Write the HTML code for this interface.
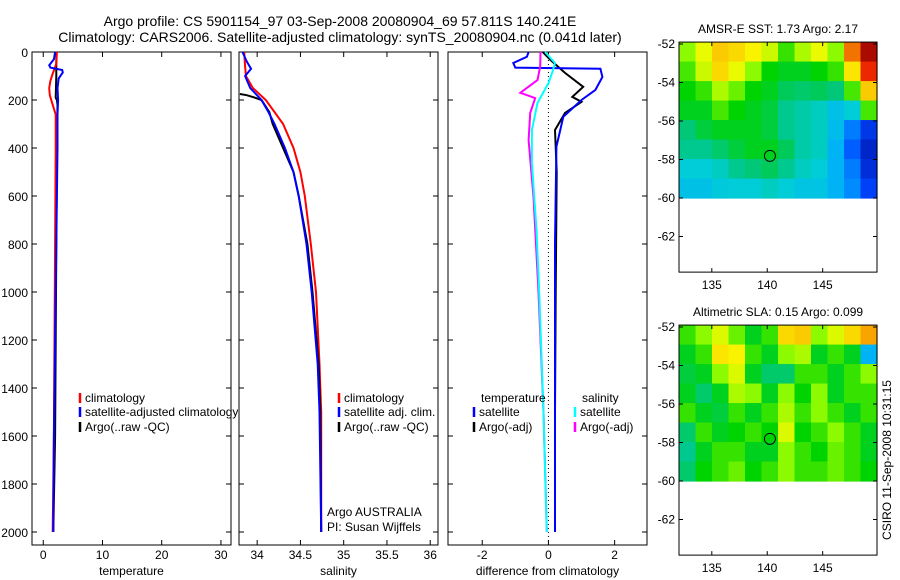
<!DOCTYPE html>
<html><head><meta charset="utf-8"><style>
body{margin:0;background:#fff}
svg{display:block;font-family:"Liberation Sans",sans-serif;font-size:12px}
</style></head><body>
<svg id="c" width="900" height="580" xmlns="http://www.w3.org/2000/svg"></svg>
<script>
// ---- data ----
const depthTicks=[0,200,400,600,800,1000,1200,1400,1600,1800,2000];
const tempTicks=[0,10,20,30];
const salTicks=[34,34.5,35,35.5,36];
const salTickLabels=["34","34.5","35","35.5","36"];
const diffTicks=[-2,0,2];
const lonTicks=[135,140,145];
const latTicks=[-52,-54,-56,-58,-60,-62];

const tClimD=[0,50,90,120,150,180,220,260,400,800,1200,1600,2000];
const tClimV=[2.3,2.2,1.6,1.2,1.0,1.1,1.6,2.1,2.1,2.0,1.9,1.8,1.6];
const tSatD=[0,30,55,65,75,85,110,150,200,260,400,800,1200,1600,2000];
const tSatV=[2.0,1.8,1.0,1.2,3.2,3.3,2.6,2.4,2.5,2.4,2.4,2.2,2.0,1.8,1.7];
const tArgoD=[0,100,190,200,220,400,800,1200,1600,2000];
const tArgoV=[2.2,2.2,2.1,2.3,2.4,2.3,2.2,2.1,2.0,1.7];

const sClimD=[0,60,100,150,200,250,300,400,500,600,800,1000,1300,1500,2000];
const sClimV=[33.85,33.86,33.87,33.95,34.1,34.2,34.3,34.42,34.5,34.55,34.62,34.68,34.72,34.74,34.74];
const sSatD=[0,40,70,100,150,200,250,300,400,500,600,800,1000,1300,1500,2000];
const sSatV=[33.83,33.88,33.93,33.86,33.92,34.05,34.13,34.2,34.32,34.42,34.48,34.57,34.63,34.7,34.72,34.74];
const sArgoD=[175,180,190,200,250,300,350,400,500,600,800,1000,1300,1500,2000];
const sArgoV=[33.8,33.88,33.97,34.05,34.14,34.18,34.24,34.3,34.42,34.48,34.58,34.64,34.71,34.73,34.74];

const dTSatD=[0,20,46,65,70,104,158,200,270,395,800,1200,1600,2000];
const dTSatV=[-0.6,-0.65,-1.06,-1.0,1.57,1.63,1.42,1.0,0.45,0.24,0.2,0.2,0.2,0.2];
const dTArgoD=[0,33,87,145,187,208,254,325,500,1000,1500,2000];
const dTArgoV=[-0.17,0.06,0.5,1.05,0.72,1.0,0.5,0.2,0.25,0.22,0.2,0.2];
const dSSatD=[0,46,83,130,212,325,462,742,1000,1500,2000];
const dSSatV=[-0.1,0.2,0.12,0.0,-0.33,-0.5,-0.5,-0.36,-0.28,-0.15,-0.05];
const dSArgoD=[0,60,117,170,192,254,367,604,1000,1500,2000];
const dSArgoV=[-0.24,-0.25,-0.33,-0.85,-0.4,-0.55,-0.6,-0.45,-0.3,-0.15,-0.05];

const sstGrid=[
[.6,.66,.74,.72,.68,.64,.55,.62,.66,.6,.82,.97],
[.56,.64,.72,.66,.6,.52,.5,.5,.52,.55,.7,.88],
[.52,.55,.62,.58,.52,.5,.46,.45,.46,.44,.56,.74],
[.5,.5,.56,.52,.5,.48,.42,.4,.38,.33,.36,.56],
[.44,.48,.5,.5,.5,.48,.42,.4,.38,.32,.22,.12],
[.42,.42,.45,.48,.5,.5,.46,.4,.38,.3,.18,.08],
[.36,.36,.38,.42,.44,.46,.42,.38,.36,.3,.22,.1],
[.33,.33,.35,.36,.36,.38,.36,.34,.34,.3,.24,.14]];
const slaGrid=[
[.55,.6,.65,.58,.5,.55,.72,.74,.6,.65,.72,.78],
[.5,.55,.7,.68,.55,.5,.6,.62,.5,.55,.5,.3],
[.48,.5,.6,.65,.5,.45,.45,.55,.55,.5,.55,.6],
[.5,.45,.5,.62,.6,.5,.6,.52,.6,.5,.55,.55],
[.55,.5,.48,.55,.5,.55,.62,.55,.6,.55,.5,.55],
[.45,.55,.5,.52,.55,.52,.65,.52,.55,.6,.55,.5],
[.42,.5,.55,.55,.5,.5,.6,.55,.52,.58,.55,.5],
[.45,.52,.55,.58,.52,.55,.6,.55,.55,.58,.55,.52]];
const floatLon=140.24, floatLat=-57.81;

// ---- drawing ----
const svg=document.getElementById('c');
const NS='http://www.w3.org/2000/svg';
function el(tag,attrs,parent){const e=document.createElementNS(NS,tag);for(const k in attrs)e.setAttribute(k,attrs[k]);(parent||svg).appendChild(e);return e;}
function txt(x,y,s,anchor,parent,size){const t=el('text',{x:x,y:y,'text-anchor':anchor||'start'},parent);if(size)t.setAttribute('font-size',size);t.textContent=s;return t;}

const defs=el('defs',{});
const cp=el('clipPath',{id:'clip1'},defs);
el('rect',{x:0,y:0,width:238,height:580},cp);

const Y0=52, YS=0.24, PT=52, PB=545;
const yD=d=>Y0+d*YS;

function panel(name,x0,x1,xmin,xmax,ticks,labels,xlabel){
  const g=el('g',{});
  
  
  const sx=v=>x0+(v-xmin)/(xmax-xmin)*(x1-x0);
  el('rect',{x:x0,y:PT,width:x1-x0,height:PB-PT,fill:'#fff',stroke:'#000','stroke-width':1},g);
  ticks.forEach((t,i)=>{const x=sx(t);
    el('line',{x1:x,y1:PT,x2:x,y2:PT+5,stroke:'#000'},g);
    el('line',{x1:x,y1:PB,x2:x,y2:PB-5,stroke:'#000'},g);
    const l=txt(x,559,labels[i],'middle',g);
    });
  depthTicks.forEach(d=>{const y=yD(d);
    el('line',{x1:x0,y1:y,x2:x0+5,y2:y,stroke:'#000'},g);
    el('line',{x1:x1,y1:y,x2:x1-5,y2:y,stroke:'#000'},g);});
  const xl=txt((x0+x1)/2,575,xlabel,'middle',g);
  
  return {g,sx};
}
function line(p,D,V,color,name,w){
  const pts=D.map((d,i)=>p.sx(V[i]).toFixed(1)+','+yD(d).toFixed(1)).join(' ');
  const l=el('polyline',{points:pts,fill:'none',stroke:color,'stroke-width':w||2},p.g);
  
}
function legendRow(g,x,y,color,label){
  el('line',{x1:x,y1:y-9,x2:x,y2:y+1,stroke:color,'stroke-width':2.5},g);
  txt(x+5,y,label,'start',g);
}

// titles
const t1=txt(340,26,'Argo profile: CS 5901154_97 03-Sep-2008 20080904_69 57.811S 140.241E','middle',null,14);

const t2=txt(340,42,'Climatology: CARS2006. Satellite-adjusted climatology: synTS_20080904.nc (0.041d later)','middle',null,14);


depthTicks.forEach(d=>{const l=txt(28,yD(d)+5,String(d),'end');});

// panel 1
const p1=panel('temperature-panel',32,231,-1.9,31.7,tempTicks,tempTicks.map(String),'temperature');
line(p1,tArgoD,tArgoV,'#000','temp-argo-line');
line(p1,tClimD,tClimV,'#f00','temp-climatology-line');
line(p1,tSatD,tSatV,'#00f','temp-satellite-line');
const lg1=el('g',{'clip-path':'url(#clip1)'},p1.g);

legendRow(lg1,80,402,'#f00','climatology');
legendRow(lg1,80,416,'#00f','satellite-adjusted climatology');
legendRow(lg1,80,431,'#000','Argo(..raw -QC)');

// panel 2
const p2=panel('salinity-panel',239,438,33.79,36.09,salTicks,salTickLabels,'salinity');
line(p2,sClimD,sClimV,'#f00','sal-climatology-line');
line(p2,sArgoD,sArgoV,'#000','sal-argo-line');
line(p2,sSatD,sSatV,'#00f','sal-satellite-line');
const lg2=el('g',{},p2.g);

legendRow(lg2,339,402,'#f00','climatology');
legendRow(lg2,339,416,'#00f','satellite adj. clim.');
legendRow(lg2,339,431,'#000','Argo(..raw -QC)');
const a1=txt(327,516,'Argo AUSTRALIA','start',p2.g);
const a2=txt(327,531,'PI: Susan Wijffels','start',p2.g);

// panel 3
const p3=panel('difference-panel',448,647,-3.034,2.978,diffTicks,diffTicks.map(String),'difference from climatology');
el('line',{x1:p3.sx(0),y1:PT,x2:p3.sx(0),y2:PB,stroke:'#000','stroke-dasharray':'1,3'},p3.g);
line(p3,dTArgoD,dTArgoV,'#000','diff-temp-argo-line');
line(p3,dTSatD,dTSatV,'#00f','diff-temp-satellite-line');
line(p3,dSArgoD,dSArgoV,'#f0f','diff-sal-argo-line');
line(p3,dSSatD,dSSatV,'#0ff','diff-sal-satellite-line');
const lg3=el('g',{},p3.g);

txt(481,402,'temperature','start',lg3);txt(582,402,'salinity','start',lg3);
legendRow(lg3,474,416,'#00f','satellite');legendRow(lg3,474,431,'#000','Argo(-adj)');
legendRow(lg3,575,416,'#0ff','satellite');legendRow(lg3,575,431,'#f0f','Argo(-adj)');

// colormap matching the reference palette
const cmStops=[[0,[0,0,140]],[0.15,[0,70,255]],[0.28,[0,170,255]],[0.36,[0,205,215]],[0.44,[0,200,120]],[0.52,[0,212,0]],[0.6,[140,250,0]],[0.67,[250,250,0]],[0.76,[250,190,0]],[0.88,[235,40,0]],[1,[150,0,0]]];
function cmap(v){
  for(let i=1;i<cmStops.length;i++){if(v<=cmStops[i][0]){const [a,ca]=cmStops[i-1],[b,cb]=cmStops[i];const f=(v-a)/(b-a);
    return 'rgb('+ca.map((c,k)=>Math.round(c+(cb[k]-c)*f)).join(',')+')';}}
  return 'rgb(150,0,0)';
}
function map(name,top,grid,title){
  const g=el('g',{});
  
  const x0=679,x1=877, lonMin=132.04, lonMax=149.9;
  const sx=v=>x0+(v-lonMin)/(lonMax-lonMin)*(x1-x0);
  const sy=v=>top+(-52-v)*19.25;
  const yTop=sy(-51.9), yBot=sy(-63.85);
  el('rect',{x:x0,y:yTop,width:x1-x0,height:yBot-yTop,fill:'#fff'},g);
  const rows=grid.length, cols=grid[0].length;
  const cw=(x1-x0)/cols, ch=(sy(-60)-yTop)/rows;
  grid.forEach((row,r)=>row.forEach((v,c)=>{
    const cell=el('rect',{x:x0+c*cw,y:yTop+r*ch,width:cw+0.6,height:ch+0.6,fill:cmap(v)},g);
    }));
  el('rect',{x:x0,y:yTop,width:x1-x0,height:yBot-yTop,fill:'none',stroke:'#000'},g);
  lonTicks.forEach(l=>{const x=sx(l);el('line',{x1:x,y1:yTop,x2:x,y2:yTop+4,stroke:'#000'},g);el('line',{x1:x,y1:yBot,x2:x,y2:yBot-4,stroke:'#000'},g);txt(x,yBot+17,String(l),'middle',g);});
  latTicks.forEach(l=>{const y=sy(l);el('line',{x1:x0,y1:y,x2:x0+4,y2:y,stroke:'#000'},g);el('line',{x1:x1,y1:y,x2:x1-4,y2:y,stroke:'#000'},g);txt(x0-4,y+4,String(l),'end',g);});
  const c=el('circle',{cx:sx(floatLon),cy:sy(floatLat),r:5.5,fill:'none',stroke:'#000','stroke-width':1},g);
  
  const t=txt(778,yTop-9,title,'middle',g);
}
map('sst-map',44,sstGrid,'AMSR-E SST: 1.73 Argo: 2.17');
map('sla-map',327,slaGrid,'Altimetric SLA: 0.15 Argo: 0.099');
const cs=txt(0,0,'CSIRO 11-Sep-2008 10:31:15','middle');
cs.setAttribute('transform','translate(891,460) rotate(-90)');

</script>
</body></html>
